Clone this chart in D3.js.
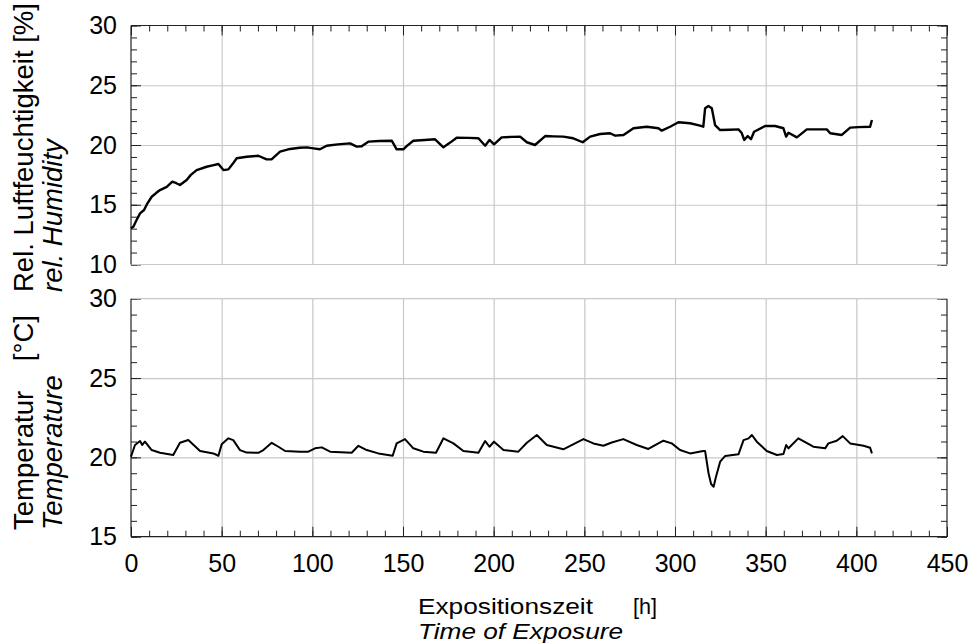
<!DOCTYPE html>
<html lang="de">
<head>
    <meta charset="UTF-8">
    <title>Luftfeuchtigkeit und Temperatur</title>
    <script src="https://d3js.org/d3.v7.min.js"></script>
    <style>
        body, html { margin: 0; padding: 0; background: #fff; overflow: hidden; }
        svg { display: block; font-family: "Liberation Sans", Arial, sans-serif; }
        .grid line { stroke: #c8c8c8; stroke-width: 1.2; }
        .ticks line { stroke: #222; stroke-width: 1; }
        .labels text { fill: #000; }
    </style>
</head>
<body>
<svg width="969" height="643"></svg>
<script>
    // hours (x) and readings
    const humHours = [0, 1.3, 3, 5, 7.2, 9, 11.4, 14, 16, 19.7, 22.8, 25, 27, 30.7, 33, 36.2, 41.7, 45, 48.2, 51,
        53.7, 56, 58.3, 63.8, 70.2, 74.8, 77.5, 82.2, 87.7, 93, 97, 100.6, 104.2, 107.9, 114, 120.8, 124.5, 127.2,
        130.9, 137, 143.8, 146.5, 150.2, 152, 155.7, 162, 167.7, 172.3, 176, 179.6, 186, 191.6, 195.3, 197.7, 200.2,
        204.4, 210, 214.6, 218.3, 222.8, 228.4, 233, 238.4, 243.9, 249.1, 253.2, 258.7, 264.2, 267, 271.6, 277.1,
        284.4, 290.9, 292.7, 297.3, 301.9, 308.3, 313.8, 315.6, 316.6, 318.4, 320.3, 322.1, 324.9, 330, 335, 336.8,
        338.2, 340.1, 341.9, 343.6, 349.7, 355.2, 359.8, 361.3, 362.6, 367.2, 372.7, 383.7, 385.6, 392, 396.6,
        401.2, 407.6, 408.6];
    const humidity = [13.03, 13.16, 13.7, 14.28, 14.56, 15.1, 15.67, 16.0, 16.23, 16.5, 16.93, 16.8, 16.65, 17.07,
        17.5, 17.9, 18.18, 18.3, 18.41, 17.9, 17.96, 18.4, 18.89, 19.02, 19.1, 18.8, 18.8, 19.44, 19.67, 19.77, 19.8,
        19.72, 19.64, 19.94, 20.05, 20.14, 19.86, 19.9, 20.28, 20.33, 20.36, 19.64, 19.64, 19.9, 20.36, 20.42, 20.48,
        19.81, 20.2, 20.61, 20.6, 20.56, 19.94, 20.42, 20.06, 20.64, 20.68, 20.7, 20.23, 20.0, 20.75, 20.72, 20.7,
        20.56, 20.23, 20.7, 20.92, 20.98, 20.78, 20.84, 21.4, 21.53, 21.4, 21.2, 21.53, 21.9, 21.82, 21.62, 21.53,
        23.07, 23.26, 23.07, 21.67, 21.25, 21.28, 21.31, 21.0, 20.42, 20.75, 20.48, 21.11, 21.59, 21.59, 21.4, 20.7,
        21.03, 20.64, 21.31, 21.31, 20.98, 20.84, 21.45, 21.5, 21.53, 22.09];

    const tempHours = [0, 2.2, 5, 6.2, 7.7, 11.4, 16, 23.3, 27, 31.6, 38.1, 45.4, 48.2, 50, 53.7, 56.4, 60.1, 63.8,
        70.2, 73, 77.6, 81.3, 85, 93.2, 97.8, 101.5, 105.2, 109.8, 121.7, 125.4, 130, 136.4, 144.3, 146.5, 151.1,
        155.7, 161.2, 168.2, 172.3, 177.8, 183.3, 191.6, 195.3, 197.7, 200.2, 205.4, 213.6, 218.3, 223.8, 229.3,
        238.4, 249.5, 255, 260.5, 265.1, 271.5, 278.9, 285.3, 293.6, 298.2, 302.8, 308.3, 315.6, 316.6, 318.5,
        319.9, 321.3, 322.6, 324.9, 327.7, 335, 337.8, 340.6, 342.4, 345.1, 350.6, 356.2, 359.8, 361.3, 362.6, 368,
        376.3, 382.8, 384.6, 389.2, 392.5, 396.6, 404, 407.6, 408.6];
    const temperature = [20.04, 20.78, 21.03, 20.78, 20.99, 20.46, 20.29, 20.15, 20.92, 21.09, 20.4, 20.25, 20.1,
        20.82, 21.2, 21.09, 20.46, 20.3, 20.29, 20.46, 20.92, 20.67, 20.4, 20.36, 20.36, 20.57, 20.63, 20.36, 20.29,
        20.73, 20.46, 20.25, 20.1, 20.88, 21.15, 20.57, 20.36, 20.29, 21.2, 20.88, 20.4, 20.29, 21.03, 20.67, 20.99,
        20.46, 20.36, 20.92, 21.41, 20.78, 20.51, 21.15, 20.88, 20.73, 20.94, 21.15, 20.78, 20.53, 21.05, 20.88,
        20.46, 20.25, 20.4, 20.4, 19.0, 18.32, 18.15, 18.78, 19.73, 20.09, 20.19, 21.09, 21.2, 21.41, 20.99, 20.4,
        20.15, 20.21, 20.78, 20.57, 21.2, 20.67, 20.57, 20.88, 21.05, 21.34, 20.88, 20.73, 20.61, 20.25];

    const xTicks = [0, 50, 100, 150, 200, 250, 300, 350, 400, 450];
    const humTicks = [10, 15, 20, 25, 30];
    const tempTicks = [15, 20, 25, 30];

    const svg = d3.select("svg");
    const left = 131, right = 947;
    const tickFont = 25;

    const x = d3.scaleLinear().domain([0, 450]).range([left, right]);
    const yHum = d3.scaleLinear().domain([10, 30]).range([264.5, 25.5]);
    const yTemp = d3.scaleLinear().domain([15, 30]).range([536.7, 298.7]);

    function panel(y, values, hours, opts) {
        const [top, bottom] = [y.range()[1], y.range()[0]];
        const g = svg.append("g");

        // grid
        g.append("g").attr("class", "grid")
            .attr("transform", `translate(0,${bottom})`)
            .call(d3.axisBottom(x).tickValues(xTicks.slice(1, -1)).tickSize(-(bottom - top)).tickFormat(""))
            .call(a => a.select(".domain").remove());
        g.append("g").attr("class", "grid")
            .attr("transform", `translate(${left},0)`)
            .call(d3.axisLeft(y).tickValues(opts.gridY).tickSize(-(right - left)).tickFormat(""))
            .call(a => a.select(".domain").remove());

        // inward ticks: minor every 1 on y, every 10 on x; major longer
        const yMinor = d3.range(y.domain()[0], y.domain()[1] + 0.1, 1);
        const yMajor = yMinor.filter(v => v % 5 === 0);
        [[yMinor, 6], [yMajor, 10]].forEach(([vals, len]) => {
            g.append("g").attr("class", "ticks").attr("transform", `translate(${left},0)`)
                .call(d3.axisLeft(y).tickValues(vals).tickSize(-len).tickFormat(""))
                .call(a => a.select(".domain").remove());
            g.append("g").attr("class", "ticks").attr("transform", `translate(${right},0)`)
                .call(d3.axisRight(y).tickValues(vals).tickSize(-len).tickFormat(""))
                .call(a => a.select(".domain").remove());
        });
        const xMinor = d3.range(0, 451, 10);
        [[xMinor, 6], [xTicks, 10]].forEach(([vals, len]) => {
            const axis = opts.xTicksTop ? d3.axisTop(x) : d3.axisBottom(x);
            g.append("g").attr("class", "ticks")
                .attr("transform", `translate(0,${opts.xTicksTop ? top : bottom})`)
                .call(axis.tickValues(vals).tickSize(-len).tickFormat(""))
                .call(a => a.select(".domain").remove());
        });

        // frame
        const frame = [
            [left, top, right, top, opts.xTicksTop ? "#222" : "#c8c8c8"],
            [left, bottom, right, bottom, opts.xTicksTop ? "#c8c8c8" : "#222"],
            [left, top, left, bottom, "#222"],
            [right, top, right, bottom, "#222"]
        ];
        g.selectAll(".frame").data(frame).enter().append("line")
            .attr("x1", d => d[0]).attr("y1", d => d[1])
            .attr("x2", d => d[2]).attr("y2", d => d[3])
            .attr("stroke", d => d[4]).attr("stroke-width", 1.2);

        // y labels
        g.append("g").attr("class", "labels").attr("transform", `translate(${left},0)`)
            .call(d3.axisLeft(y).tickValues(opts.labels).tickSize(0).tickPadding(14).tickFormat(d3.format("d")))
            .call(a => a.select(".domain").remove())
            .selectAll("text").attr("font-size", tickFont).attr("font-family", "Liberation Sans, Arial, sans-serif");

        // series
        const line = d3.line().x((d, i) => x(hours[i])).y(d => y(d));
        g.append("path").datum(values)
            .attr("d", line)
            .attr("fill", "none")
            .attr("stroke", "#000")
            .attr("stroke-width", opts.width)
            .attr("stroke-linejoin", "round");
        return g;
    }

    panel(yHum, humidity, humHours, { gridY: [15, 20, 25], xTicksTop: true, labels: humTicks, width: 2.4 });
    panel(yTemp, temperature, tempHours, { gridY: [20, 25], xTicksTop: false, labels: tempTicks, width: 2 });

    // x tick labels
    svg.append("g").attr("class", "labels").attr("transform", `translate(0,${yTemp.range()[0]})`)
        .call(d3.axisBottom(x).tickValues(xTicks).tickSize(0).tickPadding(18).tickFormat(d3.format("d")))
        .call(a => a.select(".domain").remove())
        .selectAll("text").attr("font-size", tickFont).attr("font-family", "Liberation Sans, Arial, sans-serif");

    // axis titles
    const xTitle = svg.append("text").attr("x", 418).attr("y", 614).attr("font-size", 22);
    xTitle.append("tspan").attr("textLength", 175).attr("lengthAdjust", "spacingAndGlyphs").text("Expositionszeit");
    xTitle.append("tspan").attr("x", 633).attr("textLength", 24).attr("lengthAdjust", "spacingAndGlyphs").text("[h]");
    svg.append("text").attr("x", 418).attr("y", 639).attr("font-size", 22)
        .attr("textLength", 205).attr("lengthAdjust", "spacingAndGlyphs")
        .attr("font-style", "italic").text("Time of Exposure");

    const yTitles = [
        { text: "Rel. Luftfeuchtigkeit [%]", bx: 33, by: 292, italic: false },
        { text: "rel. Humidity", bx: 62, by: 292, italic: true },
        { text: "Temperatur", bx: 33, by: 530, italic: false },
        { text: "Temperature", bx: 62, by: 530, italic: true }
    ];
    svg.selectAll(".ytitle").data(yTitles).enter().append("text")
        .attr("transform", d => `translate(${d.bx},${d.by}) rotate(-90)`)
        .attr("font-size", 27.5)
        .attr("font-style", d => d.italic ? "italic" : "normal")
        .text(d => d.text);
    svg.append("text").attr("transform", "translate(33,315) rotate(-90)")
        .attr("text-anchor", "end").attr("font-size", 27.5).text("[°C]");
</script>
</body>
</html>
